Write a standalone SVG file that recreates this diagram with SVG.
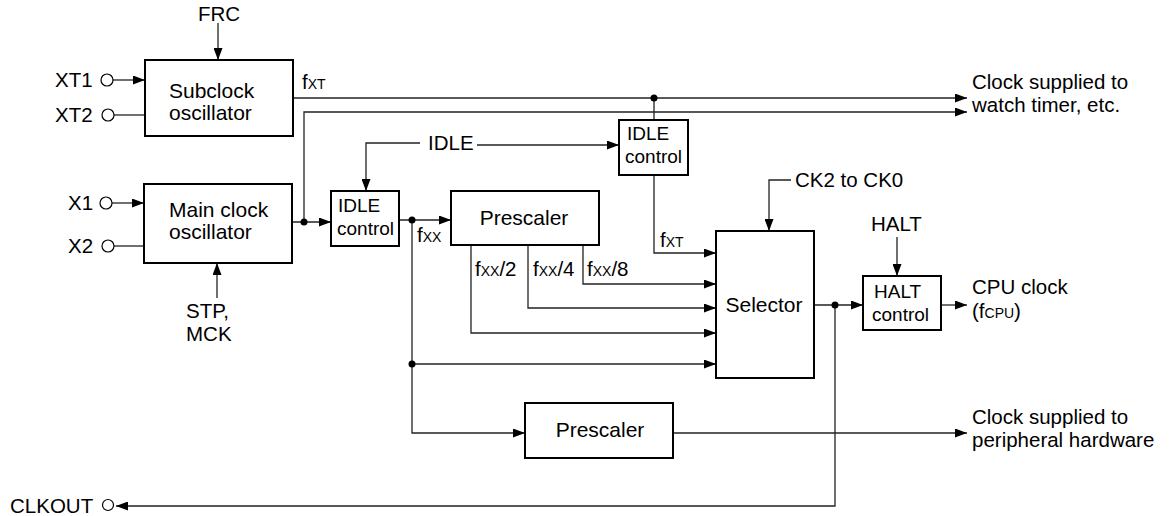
<svg xmlns="http://www.w3.org/2000/svg" width="1171" height="516" viewBox="0 0 1171 516">
<defs>
<marker id="ah" viewBox="0 0 12 9" refX="12" refY="4.5" markerWidth="12" markerHeight="9" markerUnits="userSpaceOnUse" orient="auto"><path d="M0,0 L12,4.5 L0,9 z" fill="#000"/></marker>
</defs>
<style>
text{font-family:"Liberation Sans",Arial,sans-serif;fill:#000}
.box{fill:#fff;stroke:#000;stroke-width:2}
.ln{fill:none;stroke:#222;stroke-width:1.3}
.arr{marker-end:url(#ah)}
.dot{fill:#000}
.pin{fill:#fff;stroke:#000;stroke-width:1.2}
.t21{font-size:21px}
.t20{font-size:20.5px}
.t19{font-size:19px}
.sub{font-size:14px}
</style>
<rect width="1171" height="516" fill="#fff"/>
<g id="connectors">
<path class="ln arr" d="M218,23 V60"/>
<path class="ln arr" d="M113,80 H145"/>
<path class="ln" d="M114,115 H145"/>
<path class="ln arr" d="M112,203 H144"/>
<path class="ln" d="M114,246 H144"/>
<path class="ln arr" d="M217,298 V263"/>
<path class="ln arr" d="M293,98 H967"/>
<path class="ln" d="M654,98 V120"/>
<path class="ln arr" d="M292,222 H331"/>
<path class="ln arr" d="M304,222 V112 H967"/>
<path class="ln arr" d="M420,143 H366 V191"/>
<path class="ln arr" d="M477,145 H619"/>
<path class="ln arr" d="M399,220 H451"/>
<path class="ln arr" d="M412,220 V433 H525"/>
<path class="ln arr" d="M412,364 H716"/>
<path class="ln arr" d="M471,245 V333 H716"/>
<path class="ln arr" d="M528,245 V308 H716"/>
<path class="ln arr" d="M583,245 V284 H716"/>
<path class="ln arr" d="M654,175 V253 H716"/>
<path class="ln arr" d="M791,180 H769 V231"/>
<path class="ln arr" d="M814,305 H863"/>
<path class="ln arr" d="M835,305 V506 H116"/>
<path class="ln arr" d="M897,237 V276"/>
<path class="ln arr" d="M941,305 H967"/>
<path class="ln arr" d="M673,433 H967"/>
<circle class="dot" cx="654" cy="98" r="3.5"/>
<circle class="dot" cx="304" cy="222" r="3.5"/>
<circle class="dot" cx="412" cy="220" r="3.5"/>
<circle class="dot" cx="412" cy="364" r="3.5"/>
<circle class="dot" cx="835" cy="305" r="3.5"/>
<text class="t20" x="302" y="89">f<tspan class="sub">XT</tspan></text>
<text class="t20" x="417" y="242">f<tspan class="sub">XX</tspan></text>
<text class="t20" x="660" y="247">f<tspan class="sub">XT</tspan></text>
<text class="t20" x="475" y="276">f<tspan class="sub">XX</tspan>/2</text>
<text class="t20" x="533" y="276">f<tspan class="sub">XX</tspan>/4</text>
<text class="t20" x="587" y="276">f<tspan class="sub">XX</tspan>/8</text>
</g>
<g id="pins">
<text class="t20" x="198" y="21">FRC</text>
<text class="t20" x="55" y="87">XT1</text>
<circle class="pin" cx="107" cy="80" r="6"/>
<text class="t20" x="55" y="122">XT2</text>
<circle class="pin" cx="108" cy="115" r="6"/>
<text class="t20" x="68" y="210">X1</text>
<circle class="pin" cx="106" cy="203" r="6"/>
<text class="t20" x="68" y="253">X2</text>
<circle class="pin" cx="108" cy="246" r="6"/>
<text class="t20" x="186" y="318">STP,</text>
<text class="t20" x="186" y="341">MCK</text>
<text class="t20" x="428" y="150">IDLE</text>
<text class="t20" x="795" y="187">CK2 to CK0</text>
<text class="t20" x="871" y="231">HALT</text>
<text class="t20" x="10" y="513">CLKOUT</text>
<circle class="pin" cx="108" cy="505" r="5.5"/>
</g>
<g id="subclock">
<rect class="box" x="145" y="60" width="148" height="76"/>
<text class="t21" x="169" y="98">Subclock</text>
<text class="t21" x="169" y="120">oscillator</text>
</g>
<g id="mainclock">
<rect class="box" x="144" y="184" width="148" height="79"/>
<text class="t21" x="169" y="217">Main clock</text>
<text class="t21" x="169" y="239">oscillator</text>
</g>
<g id="idle1">
<rect class="box" x="331" y="191" width="68" height="55"/>
<text class="t19" x="338" y="212">IDLE</text>
<text class="t19" x="337" y="235">control</text>
</g>
<g id="idle2">
<rect class="box" x="619" y="120" width="69" height="55"/>
<text class="t19" x="627" y="140">IDLE</text>
<text class="t19" x="625" y="163">control</text>
</g>
<g id="prescaler1">
<rect class="box" x="451" y="191" width="148" height="54"/>
<text class="t21" x="524" y="225" text-anchor="middle">Prescaler</text>
</g>
<g id="prescaler2">
<rect class="box" x="525" y="403" width="148" height="55"/>
<text class="t21" x="600" y="437" text-anchor="middle">Prescaler</text>
</g>
<g id="selector">
<rect class="box" x="716" y="231" width="98" height="147"/>
<text class="t21" x="764" y="312" text-anchor="middle">Selector</text>
</g>
<g id="halt">
<rect class="box" x="863" y="276" width="78" height="54"/>
<text class="t19" x="874" y="298">HALT</text>
<text class="t19" x="872" y="321">control</text>
</g>
<g id="outputs">
<text class="t20" x="972" y="89">Clock supplied to</text>
<text class="t20" x="972" y="112">watch timer, etc.</text>
<text class="t20" x="972" y="294">CPU clock</text>
<text class="t20" x="972" y="318">(f<tspan class="sub">CPU</tspan>)</text>
<text class="t20" x="972" y="424">Clock supplied to</text>
<text class="t20" x="972" y="447">peripheral hardware</text>
</g>
</svg>
